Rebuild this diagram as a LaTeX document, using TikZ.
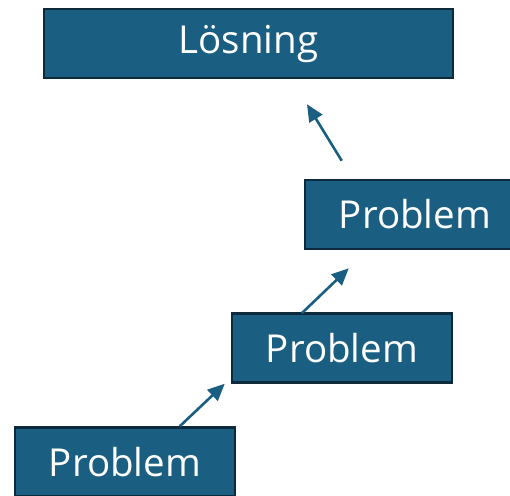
\documentclass[tikz,border=0pt]{standalone}
\usepackage{fontspec}
\setmainfont{Open Sans}
\usetikzlibrary{calc,arrows.meta}
\definecolor{boxfill}{HTML}{1A5F82}
\definecolor{boxline}{HTML}{0C2A3B}
\tikzset{
  block/.style={rectangle, fill=boxfill, draw=boxline, line width=2.5pt, text=white,
    font=\fontsize{38.5}{42}\selectfont, inner sep=0pt},
  conn/.style={draw=boxfill, line width=2.6pt, -{Triangle[length=17pt,width=15pt]}}
}
\begin{document}
\begin{tikzpicture}[x=1pt,y=-1pt]
\useasboundingbox (0,0) rectangle (510,495);
\clip (0,0) rectangle (510,495);
\node[block, minimum width=409pt, minimum height=69pt] (loes) at (248.5,43.5) {Lösning};
\node[block, minimum width=220pt, minimum height=69pt] (p3) at (415,214.5) {Problem};
\node[block, minimum width=220pt, minimum height=69pt] (p2) at (342,348) {Problem};
\node[block, minimum width=220pt, minimum height=69pt] (p1) at (125,462) {Problem};
\coordinate (a1s) at ($(p1.north west)+(166,0)$);
\coordinate (a1e) at ($(p2.south west)+(-6,0)$);
\coordinate (a2s) at ($(p2.north west)+(71,1)$);
\coordinate (a2e) at ($(p3.south west)+(45,18)$);
\coordinate (a3s) at ($(p3.north west)+(38,-18)$);
\coordinate (a3e) at ($(loes.south)+(58.5,25)$);
\draw[conn] (a1s) -- (a1e);
\draw[conn] (a2s) -- (a2e);
\draw[conn] (a3s) -- (a3e);
\end{tikzpicture}
\end{document}
